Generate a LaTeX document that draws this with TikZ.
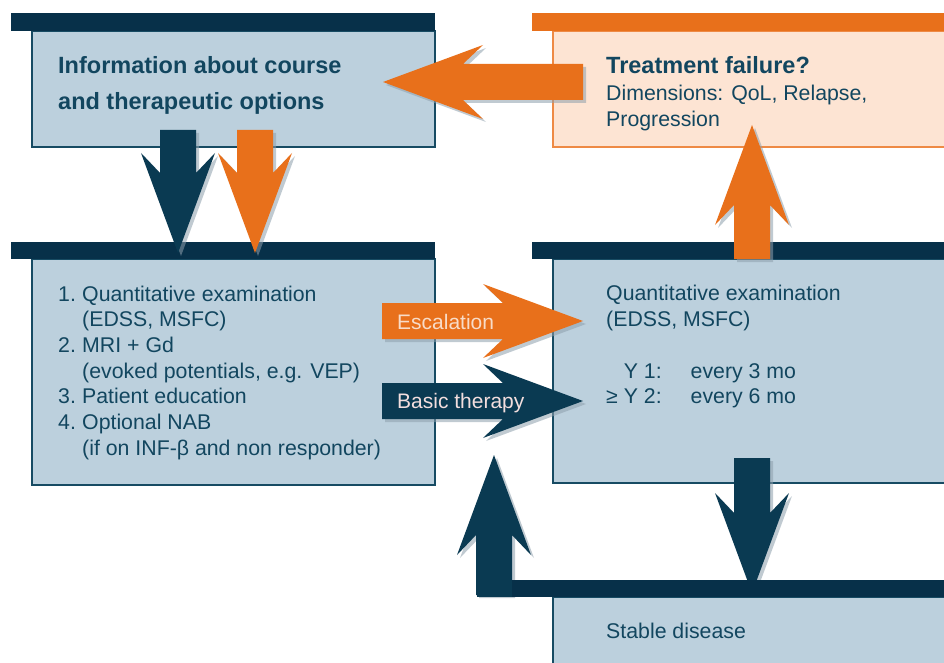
\documentclass[tikz,border=0pt]{standalone}
\usepackage{fontspec}
\setmainfont{Liberation Sans}
\usetikzlibrary{calc}

\definecolor{navy}{HTML}{073049}
\definecolor{boxblue}{HTML}{BCD0DD}
\definecolor{boxline}{HTML}{174B63}
\definecolor{textblue}{HTML}{12465F}
\definecolor{orangefill}{HTML}{E8701B}
\definecolor{peach}{HTML}{FDE4D3}
\definecolor{peachline}{HTML}{EE8A45}
\definecolor{arrowdark}{HTML}{0A3A52}
\definecolor{shadowgray}{HTML}{8E9FAC}
\definecolor{labelpeach}{HTML}{F8DCC8}
\definecolor{labelpink}{HTML}{F3DEDE}

\tikzset{
	bluebox/.style={fill=boxblue, draw=boxline, line width=1.5pt},
	peachbox/.style={fill=peach, draw=peachline, line width=1.5pt},
	topbar/.style={fill=navy},
	txt/.style={anchor=base west, inner sep=0pt, text=textblue},
	arrowlabel/.style={anchor=base west, inner sep=0pt, font=\fontsize{21}{25}\selectfont}
}

% fat arrow: [style](tip)(direction:length)
\def\fatarrow[#1](#2)(#3:#4){%
	\fill[shadowgray, opacity=0.55, shift={(#2)}, xshift=3pt, yshift=-3pt, rotate=#3] (0,0) -- (-100,37) -- (-80,18) -- (-#4,18) -- (-#4,-18) -- (-80,-18) -- (-100,-37) -- cycle;
	\fill[#1, shift={(#2)}, rotate=#3] (0,0) -- (-100,37) -- (-80,18) -- (-#4,18) -- (-#4,-18) -- (-80,-18) -- (-100,-37) -- cycle;}

\begin{document}
\begin{tikzpicture}[x=1pt, y=-1pt]
		%%%%% START %%%%%
		\useasboundingbox (0,0) rectangle (944,663);
		\clip (0,0) rectangle (944,663);
		\fill[white] (0,0) rectangle (944,663);
		
		% boxes
		\draw[bluebox] (32,31) rectangle (435,147);
		\draw[peachbox] (553,31) rectangle (960,147);
		\draw[bluebox] (32,259) rectangle (435,485);
		\draw[bluebox] (553,259) rectangle (960,483);
		\draw[bluebox] (553,597) rectangle (960,680);
		
		% bars on top of the boxes
		\fill[topbar] (11,13) rectangle (435,31);
		\fill[orangefill] (532,13) rectangle (944,31);
		\fill[topbar] (11,242) rectangle (435,259);
		\fill[topbar] (532,242) rectangle (944,259);
		\fill[topbar] (477,580) rectangle (944,597);
		
		% texts
		\node[txt] (info) at (58,74) {\fontsize{23.5}{36}\selectfont\bfseries
			\begin{tabular}[t]{@{}l@{}}Information about course\\ and therapeutic options\end{tabular}};
		\node[txt] (failure) at (606,74) {\fontsize{21.3}{25.3}\selectfont
			\begin{tabular}[t]{@{}l@{}}{\fontsize{23.5}{25}\selectfont\bfseries Treatment failure?}\\[1.5pt] Dimensions: QoL, Relapse,\\ Progression\end{tabular}};
		\node[txt] (exam) at (58,301) {\fontsize{21.3}{25.7}\selectfont
			\begin{tabular}[t]{@{}l@{}}
				\makebox[24pt][l]{1.}Quantitative examination\\
				\hspace*{24pt}(EDSS, MSFC)\\
				\makebox[24pt][l]{2.}MRI + Gd\\
				\hspace*{24pt}(evoked potentials, e.g. VEP)\\
				\makebox[24pt][l]{3.}Patient education\\
				\makebox[24pt][l]{4.}Optional NAB\\
				\hspace*{24pt}(if on INF-β and non responder)
			\end{tabular}};
		\node[txt] (quant) at (606,300) {\fontsize{21.3}{26.8}\selectfont
			\begin{tabular}[t]{@{}l@{}}Quantitative examination\\ (EDSS, MSFC)\end{tabular}};
		\node[txt] (sched) at (606,378) {\fontsize{21.3}{25.2}\selectfont
			\begin{tabular}[t]{@{}r@{\hspace{29pt}}l@{}}Y 1: & every 3 mo\\ ≥ Y 2: & every 6 mo\end{tabular}};
		\node[txt] (stable) at (606,638) {\fontsize{21.3}{25.7}\selectfont Stable disease};
		
		% arrow tips
		\coordinate (back tip) at (383,82);
		\coordinate (info tip dark) at (178,253);
		\coordinate (info tip orange) at (255,253);
		\coordinate (esc tip) at (583,321);
		\coordinate (basic tip) at (583,401);
		\coordinate (fail tip) at (752,125);
		\coordinate (stable tip) at (752,593);
		\coordinate (loop tip) at (494,455);
		
		\fatarrow[orangefill](back tip)(180:200)
		\fatarrow[arrowdark](info tip dark)(-90:123)
		\fatarrow[orangefill](info tip orange)(-90:123)
		\fatarrow[orangefill](esc tip)(0:201)
		\fatarrow[arrowdark](basic tip)(0:201)
		\fatarrow[orangefill](fail tip)(90:134)
		\fatarrow[arrowdark](stable tip)(-90:135)
		\fatarrow[arrowdark](loop tip)(90:140)
		\fill[topbar] (477,580) rectangle (944,597);
		\fill[arrowdark] (477,580) rectangle (512,597);
		
		\node[arrowlabel, text=labelpeach] (esc) at (397,329) {Escalation};
		\node[arrowlabel, text=labelpink] (basic) at (397,408) {Basic therapy};
		%%%%% END %%%%%
\end{tikzpicture}
\end{document}
